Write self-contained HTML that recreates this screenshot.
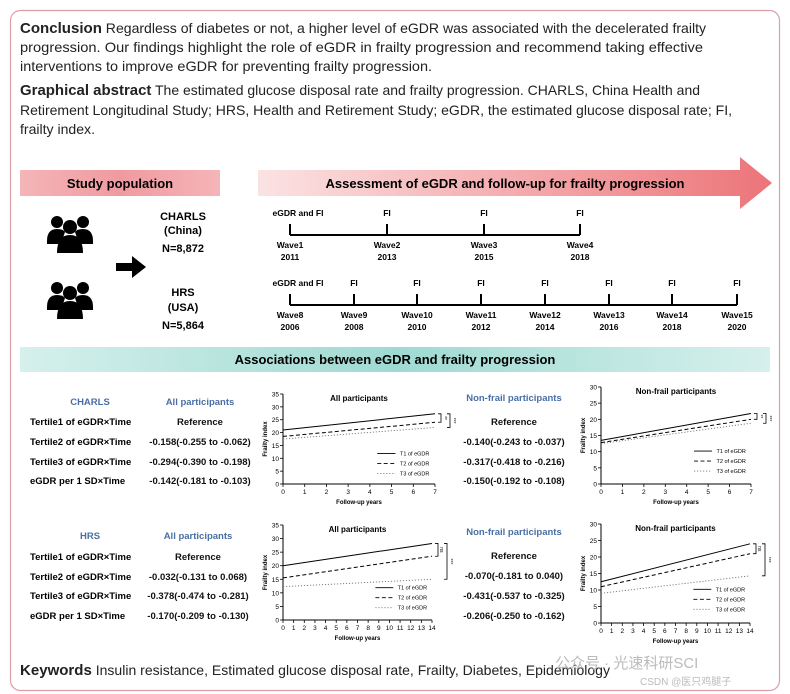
<!DOCTYPE html>
<html><head><meta charset="utf-8">
<style>
html,body{margin:0;padding:0;background:#fff;}
svg{display:block;font-family:"Liberation Sans",Arial,sans-serif;}
.b{font-weight:bold;}
</style></head>
<body>
<svg id="main" width="790" height="694" viewBox="0 0 790 694" xmlns="http://www.w3.org/2000/svg">
<defs>
<linearGradient id="gpink" x1="0" x2="1"><stop offset="0" stop-color="#f4b6b8"/><stop offset="0.5" stop-color="#ef9aa0"/><stop offset="1" stop-color="#f5b5b8"/></linearGradient>
<linearGradient id="garrow" x1="0" x2="1"><stop offset="0" stop-color="#fbe3e3"/><stop offset="1" stop-color="#ec7479"/></linearGradient>
<linearGradient id="gteal" x1="0" x2="1"><stop offset="0" stop-color="#d6f0ec"/><stop offset="0.5" stop-color="#9fdad2"/><stop offset="1" stop-color="#d6f0ec"/></linearGradient>
<symbol id="people" viewBox="0 0 50 40">
<circle cx="12" cy="9" r="6"/><circle cx="38" cy="9" r="6"/>
<path d="M2 28 q0-12 10-12 q6 0 8 3 l-4 12 h-14z"/><path d="M48 28 q0-12 -10-12 q-6 0 -8 3 l4 12 h14z"/>
<circle cx="25" cy="14" r="7"/><path d="M12 40 q0-18 13-18 q13 0 13 18z"/>
</symbol>
</defs>
<rect x="10.5" y="10.5" width="769" height="680" rx="10" fill="none" stroke="#d9a0a8" stroke-width="1.2"/>

<g font-size="14" fill="#222">
<text x="20" y="33" textLength="686" lengthAdjust="spacingAndGlyphs"><tspan class="b" font-size="15">Conclusion</tspan> Regardless of diabetes or not, a higher level of eGDR was associated with the decelerated frailty</text>
<text x="20" y="52" textLength="683" lengthAdjust="spacingAndGlyphs">progression. Our findings highlight the role of eGDR in frailty progression and recommend taking effective</text>
<text x="20" y="71" textLength="412" lengthAdjust="spacingAndGlyphs">interventions to improve eGDR for preventing frailty progression.</text>
</g>
<g font-size="14" fill="#222">
<text x="20" y="95" textLength="680" lengthAdjust="spacingAndGlyphs"><tspan class="b" font-size="15">Graphical abstract</tspan> The estimated glucose disposal rate and frailty progression. CHARLS, China Health and</text>
<text x="20" y="115" textLength="712" lengthAdjust="spacingAndGlyphs">Retirement Longitudinal Study; HRS, Health and Retirement Study; eGDR, the estimated glucose disposal rate; FI,</text>
<text x="20" y="134" textLength="75" lengthAdjust="spacingAndGlyphs">frailty index.</text>
</g>

<rect x="20" y="170" width="200" height="26" fill="url(#gpink)"/>
<text x="120" y="188" text-anchor="middle" class="b" font-size="13">Study population</text>
<path d="M258 170 H740 V157 L772 183 L740 209 V196 H258Z" fill="url(#garrow)"/>
<text x="505" y="188" text-anchor="middle" class="b" font-size="13">Assessment of eGDR and follow-up for frailty progression</text>

<use href="#people" x="45" y="213" width="50" height="40"/>
<use href="#people" x="45" y="279" width="50" height="40"/>
<path d="M116 263 H132 V256 L146 267 L132 278 V271 H116Z" fill="#000"/>
<g class="b" font-size="11" text-anchor="middle">
<text x="183" y="220">CHARLS</text><text x="183" y="234">(China)</text><text x="183" y="252">N=8,872</text>
<text x="183" y="296">HRS</text><text x="183" y="311">(USA)</text><text x="183" y="329">N=5,864</text>
</g>
<g id="tl" stroke="#000" stroke-width="2" fill="none"></g>
<g id="tltext" class="b" font-size="8.5" text-anchor="middle"></g>

<rect x="20" y="347" width="750" height="25" fill="url(#gteal)"/>
<text x="395" y="364" text-anchor="middle" class="b" font-size="13">Associations between eGDR and frailty progression</text>

<g id="tables" class="b" font-size="9.5"></g>
<g id="charts"></g>

<text x="20" y="675" font-size="14" fill="#222" textLength="590" lengthAdjust="spacingAndGlyphs"><tspan class="b" font-size="15">Keywords</tspan> Insulin resistance, Estimated glucose disposal rate, Frailty, Diabetes, Epidemiology</text>
<text x="555" y="668" font-size="15" fill="#bbb" font-family="Liberation Sans, Noto Sans CJK SC, sans-serif">公众号 · 光速科研SCI</text>
<text x="640" y="685" font-size="10" fill="#bbb" font-family="Liberation Sans, Noto Sans CJK SC, sans-serif">CSDN @医只鸡腿子</text>
</svg>
<script>
// chart data
const charlsAllT1=[21,27.3], charlsAllT2=[18.5,24], charlsAllT3=[17.5,22];
const charlsNfT1=[13.5,21.8], charlsNfT2=[12.8,20], charlsNfT3=[12.5,18.8];
const hrsAllT1=[20,28.2], hrsAllT2=[15.5,23.5], hrsAllT3=[12.3,15];
const hrsNfT1=[12.5,24], hrsNfT2=[11,21], hrsNfT3=[9,14.3];
const yTicksAll=[0,5,10,15,20,25,30,35];
const yTicksNf=[0,5,10,15,20,25,30];
const xTicks7=[0,1,2,3,4,5,6,7];
const xTicks14=[0,1,2,3,4,5,6,7,8,9,10,11,12,13,14];
const seriesNames=["T1 of eGDR","T2 of eGDR","T3 of eGDR"];
const charlsAllVals=["Reference","-0.158(-0.255 to -0.062)","-0.294(-0.390 to -0.198)","-0.142(-0.181 to -0.103)"];
const charlsNfVals=["Reference","-0.140(-0.243 to -0.037)","-0.317(-0.418 to -0.216)","-0.150(-0.192 to -0.108)"];
const hrsAllVals=["Reference","-0.032(-0.131 to 0.068)","-0.378(-0.474 to -0.281)","-0.170(-0.209 to -0.130)"];
const hrsNfVals=["Reference","-0.070(-0.181 to 0.040)","-0.431(-0.537 to -0.325)","-0.206(-0.250 to -0.162)"];
const rowLabels=["Tertile1 of eGDR×Time","Tertile2 of eGDR×Time","Tertile3 of eGDR×Time","eGDR per 1 SD×Time"];

const NS="http://www.w3.org/2000/svg";
function mk(tag,attrs,parent,txt){const e=document.createElementNS(NS,tag);for(const k in attrs)e.setAttribute(k,attrs[k]);if(txt!==undefined)e.textContent=txt;parent.appendChild(e);return e;}

// timelines
const tl=document.getElementById('tl'), tlt=document.getElementById('tltext');
function timeline(y,xs,waves,years){
  mk('line',{x1:xs[0],y1:y,x2:xs[xs.length-1],y2:y},tl);
  xs.forEach((x,i)=>{
    mk('line',{x1:x,y1:y-11,x2:x,y2:y},tl);
    const t=mk('text',{x:i==0?x+8:x,y:y-19},tlt,i==0?'eGDR and FI':'FI');
    
    
    mk('text',{x:x,y:y+13},tlt,waves[i]);
    mk('text',{x:x,y:y+25},tlt,years[i]);
  });
}
timeline(235,[290,387,484,580],["Wave1","Wave2","Wave3","Wave4"],["2011","2013","2015","2018"]);
timeline(305,[290,354,417,481,545,609,672,737],["Wave8","Wave9","Wave10","Wave11","Wave12","Wave13","Wave14","Wave15"],["2006","2008","2010","2012","2014","2016","2018","2020"]);

// tables
const tb=document.getElementById('tables');
function table(head,ys,vals,vx,vy,label,group,labelX){
  if(label){const t=mk('text',{x:labelX,y:ys[0],'text-anchor':'middle',fill:'#4a6fa5'},tb,label);
    
    rowLabels.forEach((r,i)=>mk('text',{x:30,y:ys[i+1]},tb,r));}
  const h=mk('text',{x:vx,y:vy[0],'text-anchor':'middle',fill:'#4a6fa5'},tb,head);
  
  vals.forEach((v,i)=>mk('text',{x:vx,y:vy[i+1],'text-anchor':'middle',fill:'#111'},tb,v));
}
table("All participants",[405,425,445,465,484],charlsAllVals,200,[405,425,445,465,484],"CHARLS","charls-all",90);
table("Non-frail participants",null,charlsNfVals,514,[401,425,445,465,484],null,"charls-nonfrail");
table("All participants",[539,560,580,599,619],hrsAllVals,198,[539,560,580,599,619],"HRS","hrs-all",90);
table("Non-frail participants",null,hrsNfVals,514,[535,559,579,599,619],null,"hrs-nonfrail");

// charts
const cg=document.getElementById('charts');
const dashes=["","4,2.5","1.2,1.8"];
function chart(name,x0,x1,yTop,yBot,yMax,yTicks,xTicks,series,title,brk){
  const g=mk('g',{},cg);
  
  
  const xMax=xTicks[xTicks.length-1];
  const X=v=>x0+(x1-x0)*v/xMax, Y=v=>yBot-(yBot-yTop)*v/yMax;
  mk('line',{x1:x0,y1:yTop,x2:x0,y2:yBot,stroke:'#000','stroke-width':1},g);
  mk('line',{x1:x0,y1:yBot,x2:x1,y2:yBot,stroke:'#000','stroke-width':1},g);
  yTicks.forEach(t=>{mk('line',{x1:x0-3,y1:Y(t),x2:x0,y2:Y(t),stroke:'#000','stroke-width':0.8},g);
    mk('text',{x:x0-4,y:Y(t)+2.5,'text-anchor':'end','font-size':6.5},g,t);});
  xTicks.forEach(t=>{mk('line',{x1:X(t),y1:yBot,x2:X(t),y2:yBot+3,stroke:'#000','stroke-width':0.8},g);
    mk('text',{x:X(t),y:yBot+10,'text-anchor':'middle','font-size':6.5},g,t);});
  mk('text',{x:(x0+x1)/2,y:yBot+20,'text-anchor':'middle','font-size':6,'font-weight':'bold'},g,'Follow-up years');
  mk('text',{x:x0-16,y:(yTop+yBot)/2,'text-anchor':'middle','font-size':6,'font-weight':'bold',transform:`rotate(-90 ${x0-16} ${(yTop+yBot)/2})`},g,'Frailty index');
  mk('text',{x:(x0+x1)/2,y:yTop+7,'text-anchor':'middle','font-size':8,'font-weight':'bold'},g,title);
  series.forEach((s,i)=>{
    const l=mk('line',{x1:X(0),y1:Y(s[0]),x2:X(xMax),y2:Y(s[1]),stroke:i==2?'#777':'#000','stroke-width':i==2?0.9:1,'stroke-dasharray':dashes[i]},g);
    
    
    const ly=yBot-(yBot-yTop)*0.34+i*10;
    mk('line',{x1:x0+(x1-x0)*0.62,y1:ly,x2:x0+(x1-x0)*0.74,y2:ly,stroke:i==2?'#777':'#000','stroke-width':0.9,'stroke-dasharray':dashes[i]},g);
    mk('text',{x:x0+(x1-x0)*0.77,y:ly+2,'font-size':5.5},g,seriesNames[i]);
  });
  const xe=X(xMax);
  const y1=Y(series[0][1]),y2=Y(series[1][1]),y3=Y(series[2][1]);
  mk('path',{d:`M${xe+3} ${y1} h3 V${y2} h-3`,stroke:'#000',fill:'none','stroke-width':0.8},g);
  mk('path',{d:`M${xe+12} ${y1} h3 V${y3} h-3`,stroke:'#000',fill:'none','stroke-width':0.8},g);
  mk('text',{x:xe+8,y:(y1+y2)/2,'font-size':5,transform:`rotate(90 ${xe+8} ${(y1+y2)/2})`,'text-anchor':'middle'},g,brk[0]);
  mk('text',{x:xe+17,y:(y1+y3)/2,'font-size':5,transform:`rotate(90 ${xe+17} ${(y1+y3)/2})`,'text-anchor':'middle'},g,brk[1]);
}
chart('chart-charls-all',283,435,394,484,35,yTicksAll,xTicks7,[charlsAllT1,charlsAllT2,charlsAllT3],'All participants',['**','***']);
chart('chart-charls-nonfrail',601,751,387,484,30,yTicksNf,xTicks7,[charlsNfT1,charlsNfT2,charlsNfT3],'Non-frail participants',['**','***']);
chart('chart-hrs-all',283,432,525,620,35,yTicksAll,xTicks14,[hrsAllT1,hrsAllT2,hrsAllT3],'All participants',['ns','***']);
chart('chart-hrs-nonfrail',601,750,524,623,30,yTicksNf,xTicks14,[hrsNfT1,hrsNfT2,hrsNfT3],'Non-frail participants',['ns','***']);
</script>
</body></html>
